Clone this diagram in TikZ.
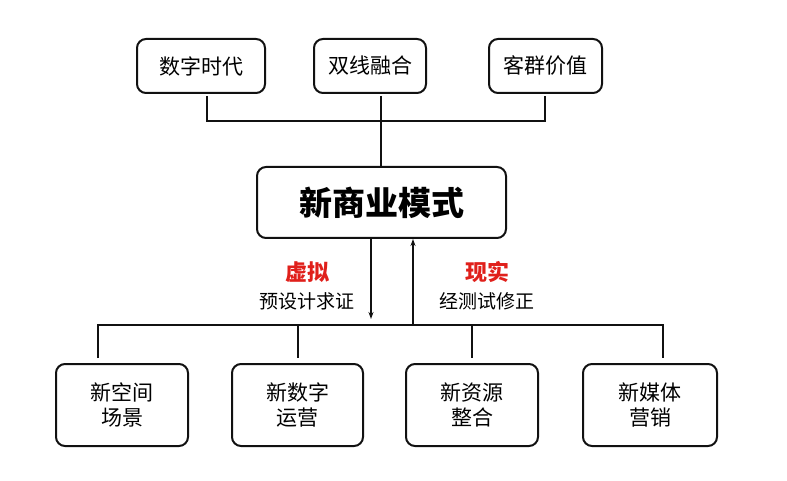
\documentclass[tikz,border=0pt]{standalone}
\usepackage{fontspec}
\setmainfont{Noto Sans CJK SC}
\usetikzlibrary{arrows.meta, positioning}
\definecolor{cred}{HTML}{E0201B}
\definecolor{cline}{HTML}{111111}
\tikzset{
  every picture/.style={x=1pt, y=-1pt, line width=2pt},
  box/.style={draw=cline, rounded corners=9pt, align=center, inner sep=0pt, font=\fontsize{21}{25}\selectfont},
  link/.style={draw=cline, line width=2pt},
  arrow/.style={-{Stealth[length=7pt, width=5pt]}, draw=cline, line width=1.3pt},
  hot/.style={font=\fontsize{22}{26}\selectfont\bfseries, text=cred},
  note/.style={font=\fontsize{19}{23}\selectfont},
}

\begin{document}
\begin{tikzpicture}
  \useasboundingbox (0,0) rectangle (787,481);
  % top row
  \foreach \i/\x/\w/\s/\t in {1/201/128/207/数字时代, 2/370/112/381/双线融合, 3/545.5/113/545/客群价值} {
    \node[box, minimum width=\w pt, minimum height=54pt] (t\i) at (\x,66) {\t};
    \coordinate (ta\i) at (\s,96); \coordinate (tb\i) at (\s,121);
  }
  \node[box, minimum width=249pt, minimum height=71pt, font=\fontsize{33}{40}\selectfont\bfseries] (m) at (381.5,202.5) {新商业模式};
  \draw[link] (ta1) -- (tb1) -- (tb3) -- (ta3);
  \draw[link] (ta2) -- (ta2 |- m.north);
  % arrows and labels
  \coordinate (dn) at (371,319); \coordinate (up) at (413,325);
  \draw[arrow] (dn |- m.south) -- (dn);
  \draw[arrow] (up) -- (up |- m.south);
  \node[hot] (v1) at (307,272) {虚拟};
  \node[note] (v2) at (307,301) {预设计求证};
  \node[hot] (r1) at (487,272) {现实};
  \node[note] (r2) at (487,301) {经测试修正};
  % bottom row
  \foreach \i/\x/\w/\s/\t in {1/122/132/98/新空间\\场景, 2/297.5/131/298/新数字\\运营, 3/472/132/472/新资源\\整合, 4/650/134/663/新媒体\\营销} {
    \node[box, minimum width=\w pt, minimum height=82pt] (b\i) at (\x,405) {\t};
    \coordinate (ba\i) at (\s,325); \coordinate (bb\i) at (\s,358);
  }
  \draw[link] (bb1) -- (ba1) -- (ba4) -- (bb4);
  \draw[link] (ba2) -- (bb2); \draw[link] (ba3) -- (bb3);
\end{tikzpicture}
\end{document}
